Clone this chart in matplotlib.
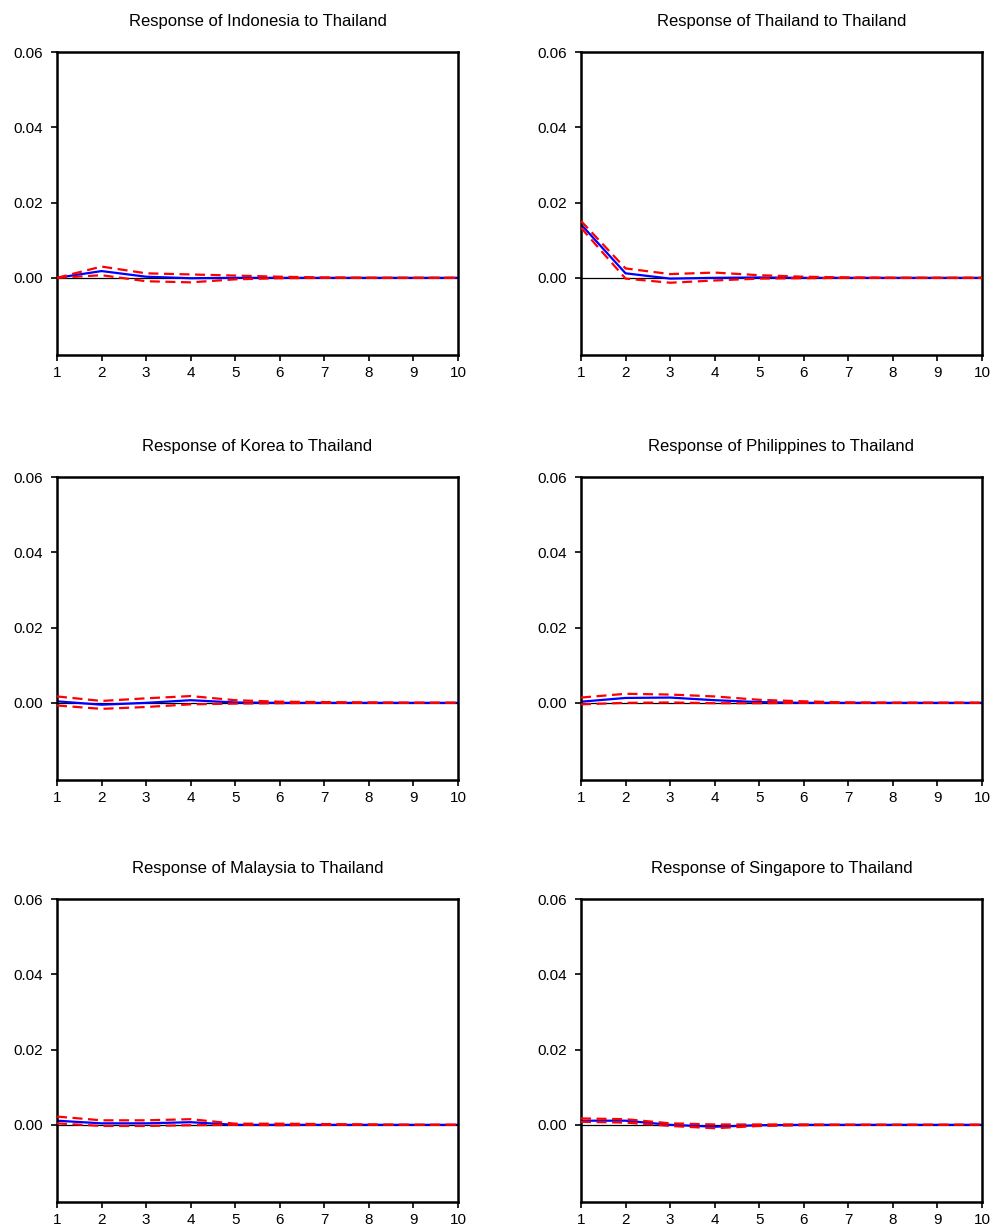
import numpy as np
import matplotlib
matplotlib.use("Agg")
from matplotlib import pyplot as plt

plt.rcParams['font.family'] = ['Liberation Sans', 'DejaVu Sans']

periods = np.arange(1, 11)

titles = [
    'Response of Indonesia to Thailand',
    'Response of Thailand to Thailand',
    'Response of Korea to Thailand',
    'Response of Philippines to Thailand',
    'Response of Malaysia to Thailand',
    'Response of Singapore to Thailand',
]

# impulse responses (blue) with +/- 2 s.e. bands (red)
resp_indonesia = [0.0, 0.0018, 0.0003, -0.0001, 0.0, 0.0, 0.0, 0.0, 0.0, 0.0]
upper_indonesia = [0.0, 0.0030, 0.0012, 0.0009, 0.0006, 0.0003, 0.0001, 0.0, 0.0, 0.0]
lower_indonesia = [0.0, 0.0007, -0.0009, -0.0012, -0.0004, -0.0001, 0.0, 0.0, 0.0, 0.0]

resp_thailand = [0.0142, 0.0012, -0.0002, 0.0, 0.0001, 0.0, 0.0, 0.0, 0.0, 0.0]
upper_thailand = [0.0151, 0.0025, 0.0010, 0.0014, 0.0007, 0.0003, 0.0001, 0.0, 0.0, 0.0]
lower_thailand = [0.0133, -0.0002, -0.0013, -0.0007, -0.0002, -0.0001, 0.0, 0.0, 0.0, 0.0]

resp_korea = [0.0004, -0.0005, 0.0, 0.0007, 0.0001, 0.0, 0.0, 0.0, 0.0, 0.0]
upper_korea = [0.0017, 0.0005, 0.0012, 0.0018, 0.0007, 0.0003, 0.0002, 0.0001, 0.0, 0.0]
lower_korea = [-0.0007, -0.0016, -0.0011, -0.0004, -0.0002, -0.0001, 0.0, 0.0, 0.0, 0.0]

resp_philippines = [0.0003, 0.0013, 0.0014, 0.0007, 0.0002, 0.0, 0.0, 0.0, 0.0, 0.0]
upper_philippines = [0.0014, 0.0024, 0.0022, 0.0017, 0.0008, 0.0004, 0.0001, 0.0, 0.0, 0.0]
lower_philippines = [-0.0004, 0.0, 0.0001, -0.0001, -0.0001, 0.0, 0.0, 0.0, 0.0, 0.0]

resp_malaysia = [0.0011, 0.0004, 0.0004, 0.0007, 0.0, 0.0, 0.0, 0.0, 0.0, 0.0]
upper_malaysia = [0.0022, 0.0012, 0.0012, 0.0015, 0.0003, 0.0003, 0.0002, 0.0001, 0.0, 0.0]
lower_malaysia = [0.0004, -0.0003, -0.0003, -0.0001, 0.0, -0.0001, 0.0, 0.0, 0.0, 0.0]

resp_singapore = [0.0011, 0.0011, 0.0, -0.0005, -0.0001, 0.0, 0.0, 0.0, 0.0, 0.0]
upper_singapore = [0.0017, 0.0015, 0.0004, 0.0001, 0.0001, 0.0001, 0.0, 0.0, 0.0, 0.0]
lower_singapore = [0.0008, 0.0006, -0.0003, -0.0009, -0.0003, -0.0001, 0.0, 0.0, 0.0, 0.0]

series = [
    (resp_indonesia, upper_indonesia, lower_indonesia),
    (resp_thailand, upper_thailand, lower_thailand),
    (resp_korea, upper_korea, lower_korea),
    (resp_philippines, upper_philippines, lower_philippines),
    (resp_malaysia, upper_malaysia, lower_malaysia),
    (resp_singapore, upper_singapore, lower_singapore),
]

y_ticks = [0.0, 0.02, 0.04, 0.06]
y_ticklabels = ['0.00', '0.02', '0.04', '0.06']

W, H = 995, 1231
fig = plt.figure(figsize=(W / 100, H / 100), dpi=100)

col_left = [57, 581]
col_width = 401
row_top = [52, 477, 899]
row_height = 303

dash = (0, (4.5, 2.5))

for k, (title, (resp, upper, lower)) in enumerate(zip(titles, series)):
    r, c = divmod(k, 2)
    x0 = col_left[c] / W
    y0 = 1 - (row_top[r] + row_height) / H
    ax = fig.add_axes([x0, y0, col_width / W, row_height / H])

    ax.axhline(0, color='black', lw=0.9, zorder=1)
    ax.plot(periods, resp, color='#0000ff', lw=1.6, zorder=2)
    ax.plot(periods, upper, color='#ff0000', lw=1.6, ls=dash, zorder=3)
    ax.plot(periods, lower, color='#ff0000', lw=1.6, ls=dash, zorder=3)

    ax.set_xlim(1, 10)
    ax.set_ylim(-0.0205, 0.06)
    ax.set_xticks(periods)
    ax.set_yticks(y_ticks)
    ax.set_yticklabels(y_ticklabels)
    ax.set_title(title, fontsize=12, pad=19)

    for s in ax.spines.values():
        s.set_linewidth(1.8)
    ax.tick_params(direction='out', length=4, width=1.2, labelsize=11)
    ax.tick_params(axis='y', pad=6)
    ax.tick_params(axis='x', pad=4)

fig.savefig('out.png', dpi=100)
